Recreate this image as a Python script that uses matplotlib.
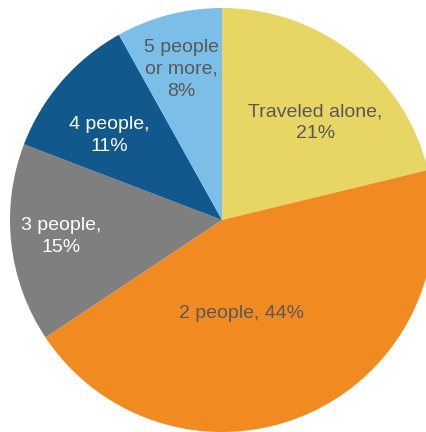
import matplotlib.pyplot as plt

# Travel party size shares (%)
groups = ['Traveled alone', '2 people', '3 people', '4 people', '5 people\nor more']
shares = [21, 44, 15, 11, 8]
colors = ['#E7D564', '#F28A22', '#7F7F7F', '#11598D', '#7BBEE8']
text_colors = ['#595959', '#595959', 'white', 'white', '#595959']

# where each label sits (pie radius = 1)
label_pos = [(0.44, 0.46), (0.09, -0.44), (-0.76, -0.08), (-0.53, 0.40), (-0.19, 0.71)]

plt.rcParams['font.family'] = ['Liberation Sans', 'DejaVu Sans']

fig = plt.figure(figsize=(4.27, 4.32), dpi=100)
ax = fig.add_axes([0, 0, 1, 1])

ax.pie(shares, colors=colors, startangle=90, counterclock=False, radius=1,
       wedgeprops=dict(linewidth=0))

for name, val, (x, y), tc in zip(groups, shares, label_pos, text_colors):
    if name == '2 people':
        txt = f'{name}, {val}%'
    else:
        txt = f'{name},\n{val}%'
    ax.text(x, y, txt, ha='center', va='center', color=tc, fontsize=14,
            linespacing=1.38)

# pie centre at (222, 220) px, radius 212 px
r = 212
ax.set_xlim(-222 / r, (427 - 222) / r)
ax.set_ylim(-(432 - 220) / r, 220 / r)
ax.set_aspect('auto')
ax.axis('off')

fig.savefig('out.png', dpi=100, facecolor='white')
